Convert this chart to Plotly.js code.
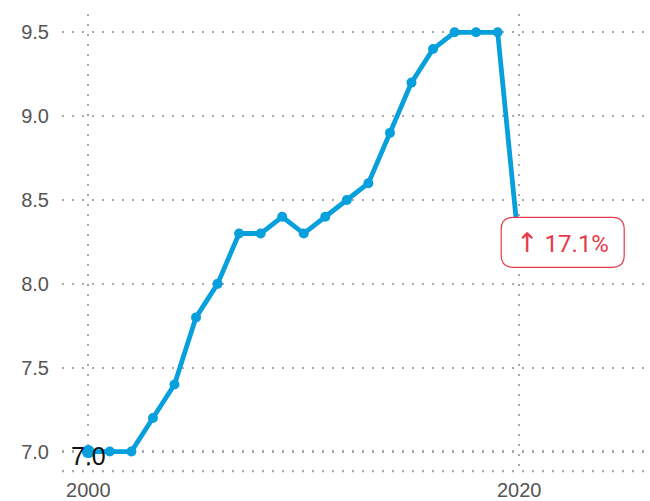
<!DOCTYPE html>
<html>
<head>
<meta charset="utf-8">
<script src="https://cdn.plot.ly/plotly-3.0.1.min.js"></script>
<style>html,body{margin:0;padding:0;background:#fff;}#chart{width:650px;height:501px;}</style>
</head>
<body>
<div id="chart"></div>
<script>
const years = [2000,2001,2002,2003,2004,2005,2006,2007,2008,2009,2010,2011,2012,2013,2014,2015,2016,2017,2018,2019,2020];
const values = [7.0,7.0,7.0,7.2,7.4,7.8,8.0,8.3,8.3,8.4,8.3,8.4,8.5,8.6,8.9,9.2,9.4,9.5,9.5,9.5,8.2];
const xTicks = [2000, 2020];
const yTicks = [7.0, 7.5, 8.0, 8.5, 9.0, 9.5];
const startLabel = '7.0';
const changeArrow = '↑';
const changeLabel = '17.1%';

const blue = '#079fdc';
const red = '#e8394a';
const grid = '#a8a8a8';

const sizes = values.map((v, i) => i === 0 ? 13 : 10);
const lastX = years[years.length - 1];
const lastY = values[values.length - 1];

const trace = {
  x: years, y: values, type: 'scatter', mode: 'lines+markers',
  line: {color: blue, width: 4.8},
  marker: {color: blue, size: sizes, opacity: 1, line: {width: 0}},
  hoverinfo: 'skip'
};

const layout = {
  width: 650, height: 501,
  margin: {l: 62, r: 0, t: 14, b: 29},
  paper_bgcolor: '#fff', plot_bgcolor: '#fff',
  showlegend: false,
  font: {family: 'Liberation Sans, Arial, sans-serif', color: '#555', size: 20},
  xaxis: {
    range: [1998.78, 2026.07], tickvals: xTicks, ticktext: xTicks.map(String),
    showgrid: true, gridcolor: grid, gridwidth: 2.2, griddash: '2px,8px',
    zeroline: false, showline: false, ticks: '', ticklabelstandoff: 4,
    tickfont: {size: 20, color: '#555'}
  },
  yaxis: {
    range: [6.878, 9.609], tickvals: yTicks, ticktext: yTicks.map(v => v.toFixed(1)),
    showgrid: true, gridcolor: grid, gridwidth: 2.2, griddash: '2px,8px',
    zeroline: false, showline: false, ticks: '', ticklabelstandoff: 12,
    tickfont: {size: 20, color: '#555'}
  },
  shapes: [
    {type: 'line', xref: 'paper', yref: 'paper', x0: 0, x1: 1, y0: 0.002, y1: 0.002,
     line: {color: grid, width: 2.2, dash: '2px,8px'}, layer: 'below'},
    {type: 'path', xref: 'x', yref: 'y', xsizemode: 'pixel', ysizemode: 'pixel',
     xanchor: lastX, yanchor: lastY, layer: 'above',
     path: 'M -6,33 L 93,33 Q 105,33 105,21 L 105,-5 Q 105,-17 93,-17 L -6,-17 Q -18,-17 -18,-5 L -18,21 Q -18,33 -6,33 Z',
     fillcolor: '#ffffff', line: {color: red, width: 1.2}}
  ],
  annotations: [
    {x: years[0], y: values[0], xref: 'x', yref: 'y', text: startLabel, showarrow: false,
     xanchor: 'center', yanchor: 'middle', xshift: 0, yshift: -4,
     font: {family: 'Liberation Sans, Arial, sans-serif', size: 25, color: '#111'}},
    {x: lastX, y: lastY, xref: 'x', yref: 'y',
     text: '<span style="font-family:DejaVu Sans;font-size:27px">' + changeArrow + '</span> ' + changeLabel,
     showarrow: false,
     xanchor: 'center', yanchor: 'middle', xshift: 43, yshift: 8,
     font: {family: 'Roboto, Liberation Sans, sans-serif', size: 24, color: red}}
  ]
};

Plotly.newPlot('chart', [trace], layout, {displayModeBar: false, staticPlot: true});
</script>
</body>
</html>
